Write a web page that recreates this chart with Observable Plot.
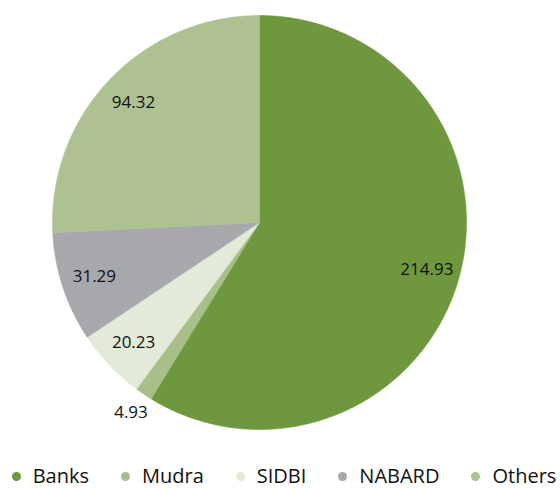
<!DOCTYPE html>
<html>
<head>
<meta charset="utf-8">
<script src="https://cdn.jsdelivr.net/npm/d3@7"></script>
<script src="https://cdn.jsdelivr.net/npm/@observablehq/plot@0.6"></script>
<style>
  html, body { margin: 0; padding: 0; background: #fff; }
  body { width: 560px; font-family: "Open Sans", sans-serif; }
  svg { display: block; }
  .legend { display: flex; justify-content: center; align-items: center; height: 26px; line-height: 26px; font-size: 20px; color: #111; padding-left: 8px; }
  .item { display: flex; align-items: center; margin: 0 16px; white-space: nowrap; }
  .dot { width: 9px; height: 9px; border-radius: 50%; margin-right: 12px; flex: none; }
</style>
</head>
<body>
<div id="chart"></div>
<script>
const categories = ["Banks", "Mudra", "SIDBI", "NABARD", "Others"];
const values = [214.93, 4.93, 20.23, 31.29, 94.32];
const labels = ["214.93", "4.93", "20.23", "31.29", "94.32"];
const colors = ["#6f983e", "#a8bf89", "#e3ebd8", "#a7a8ac", "#adc290"];

const data = categories.map((name, i) => ({ name, value: values[i], label: labels[i], color: colors[i] }));
const arcs = d3.pie().sort(null).value(d => d.value)(data);
const total = d3.sum(values);

// slice outlines on the unit circle (angle 0 at 12 o'clock, clockwise)
const slices = arcs.map(a => {
  const pts = [{x: 0, y: 0}];
  const n = Math.max(2, Math.ceil((a.endAngle - a.startAngle) / (Math.PI / 360)));
  for (let k = 0; k <= n; k++) {
    const t = a.startAngle + (a.endAngle - a.startAngle) * k / n;
    pts.push({x: Math.sin(t), y: Math.cos(t)});
  }
  pts.push({x: 0, y: 0});
  return {color: a.data.color, pts};
});

const labelPts = arcs.map(a => {
  const mid = (a.startAngle + a.endAngle) / 2;
  const r = a.data.value / total < 0.03 ? 1.11 : 0.84;
  return {x: r * Math.sin(mid), y: r * Math.cos(mid), label: a.data.label};
});

const chart = Plot.plot({
  width: 560,
  height: 463,
  marginLeft: 52,
  marginRight: 94,
  marginTop: 15,
  marginBottom: 34,
  x: {domain: [-1, 1], axis: null},
  y: {domain: [-1, 1], axis: null},
  style: {fontFamily: "Open Sans, sans-serif", background: "white", overflow: "visible"},
  marks: [
    ...slices.map(s => Plot.line(s.pts, {x: "x", y: "y", fill: s.color, stroke: s.color, strokeWidth: 0.6, curve: "linear"})),
    Plot.text(labelPts, {x: "x", y: "y", text: "label", fontSize: 17, fill: "#111"})
  ]
});
document.getElementById("chart").appendChild(chart);

const legend = document.createElement("div");
legend.className = "legend";
data.forEach(d => {
  const it = document.createElement("div");
  it.className = "item";
  const dot = document.createElement("span");
  dot.className = "dot";
  dot.style.background = d.color;
  const txt = document.createElement("span");
  txt.textContent = d.name;
  it.appendChild(dot);
  it.appendChild(txt);
  legend.appendChild(it);
});
document.getElementById("chart").appendChild(legend);
</script>
</body>
</html>
